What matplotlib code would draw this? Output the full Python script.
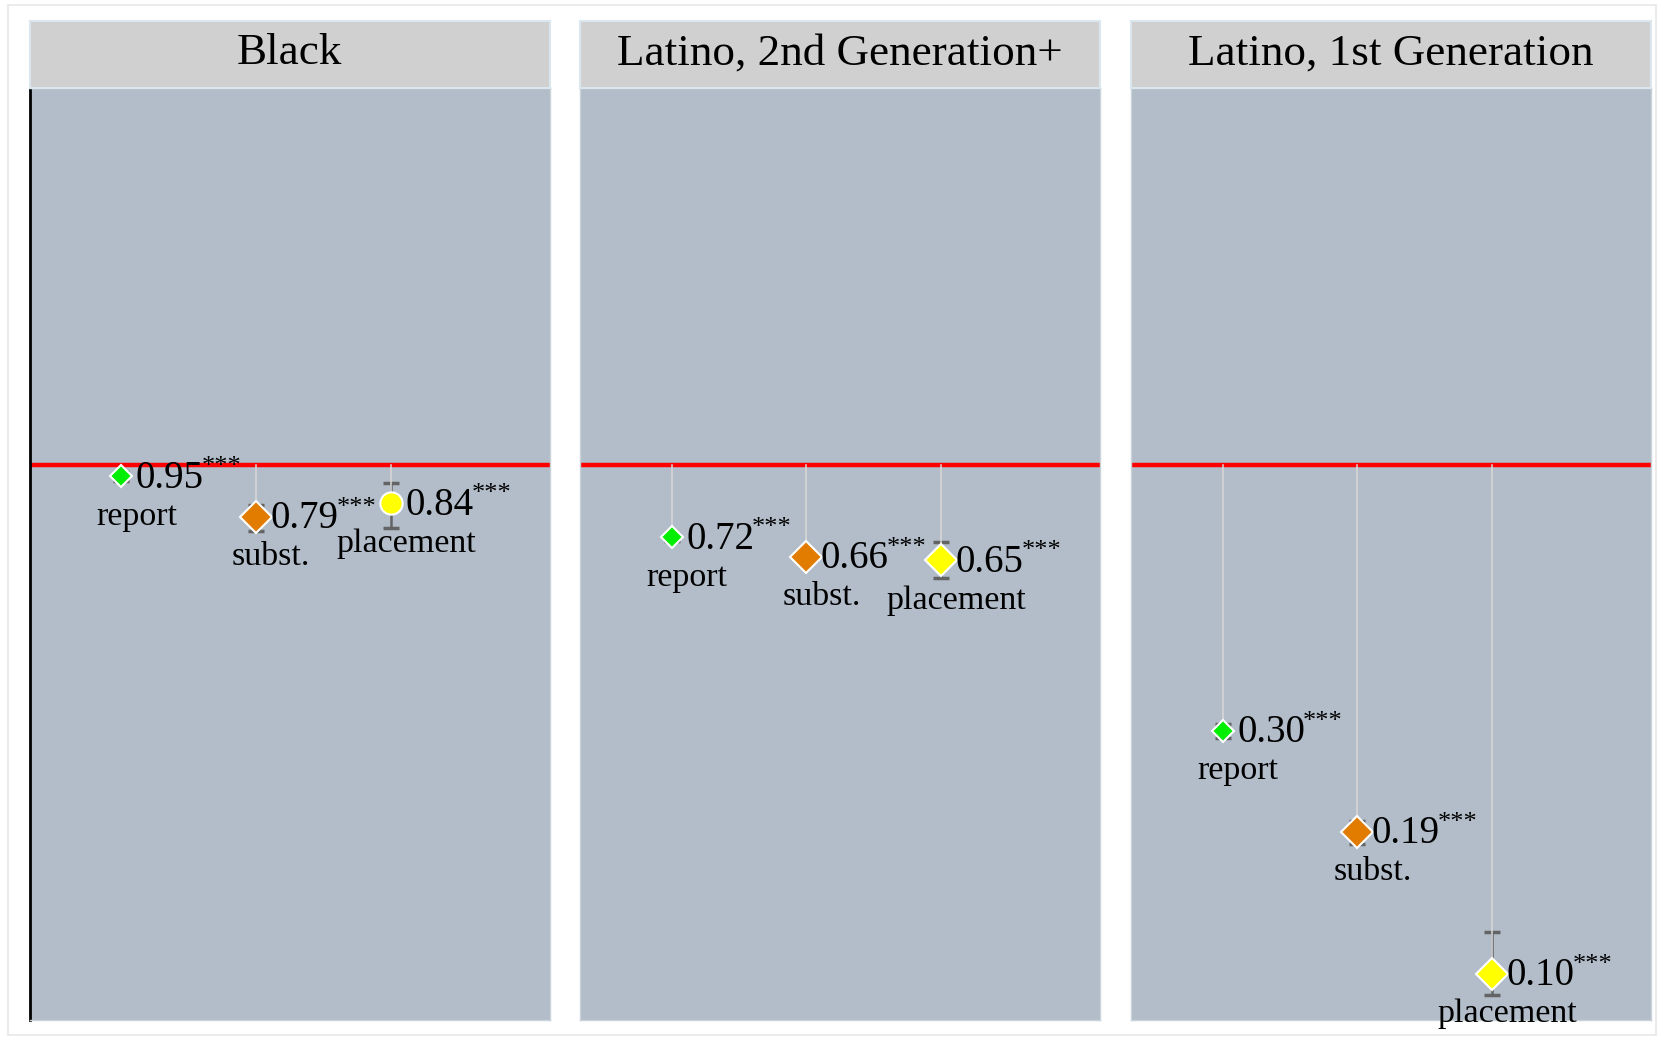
import numpy as np
import matplotlib.pyplot as plt
from matplotlib.patches import Rectangle

# data (odds ratios, log scale)
groups = ['Black', 'Latino, 2nd Generation+', 'Latino, 1st Generation']
outcomes = ['report', 'subst.', 'placement']
est = [[0.95, 0.79, 0.84],
       [0.72, 0.66, 0.65],
       [0.30, 0.19, 0.10]]
ci_lo = [[0.93, 0.74, 0.75],
         [0.71, 0.645, 0.60],
         [0.29, 0.18, 0.091]]
ci_hi = [[0.97, 0.835, 0.92],
         [0.73, 0.675, 0.705],
         [0.31, 0.20, 0.121]]
stars = [['***', '***', '***'],
         ['***', '***', '***'],
         ['***', '***', '***']]

fcol = ['#00ee00', '#e27c00', '#ffff00']
msize = [11, 16, 16]
bg = '#b2bdc9'
serif = ['Liberation Serif', 'DejaVu Serif']

fig = plt.figure(figsize=(16.65, 10.4), dpi=100)
W, H = 1665.0, 1040.0

# faint outer frame
fig.patches.append(Rectangle((8.5 / W, 5 / H), (1656 - 8.5) / W, (1035 - 5) / H,
                             transform=fig.transFigure, fill=False,
                             edgecolor='#ebebeb', lw=1.5))

lefts = [29.7, 580, 1131]
pw = 520.0
top, bot, htop = 88.0, 1019.5, 21.0

for g, name in enumerate(groups):
    ax = fig.add_axes([lefts[g] / W, 1 - bot / H, pw / W, (bot - top) / H])
    ax.set_facecolor(bg)
    ax.set_yscale('log')
    ax.set_ylim(0.0813, 5.5)
    ax.set_xlim(0.32, 4.18)
    ax.set_xticks([])
    ax.set_yticks([])
    ax.minorticks_off()
    for s in ax.spines.values():
        s.set_color('#c8d2da')
        s.set_linewidth(1)
    if g == 0:
        ax.spines['left'].set_color('black')
        ax.spines['left'].set_linewidth(2)

    ax.axhline(1, color='#ff0000', lw=3.2, zorder=2)

    for i in range(3):
        x = i + 1
        y = est[g][i]
        ax.errorbar(x, y, yerr=[[y - ci_lo[g][i]], [ci_hi[g][i] - y]], fmt='none',
                    ecolor='#646464', elinewidth=1.8, capsize=6, capthick=2.5, zorder=3)
        ax.plot([x, x], [1, y], color='#d8d8d8', lw=1.1, zorder=4)
        mk = 'o' if (g == 0 and i == 2) else 'D'
        ms = 16 if mk == 'o' else msize[i]
        ax.plot(x, y, marker=mk, ms=ms, mfc=fcol[i], mec='white', mew=1.5,
                ls='none', zorder=5)
        t = ax.annotate('%.2f' % y, (x, y), xytext=(10.5, -1.5), textcoords='offset points',
                        ha='left', va='center', fontsize=28, family=serif, zorder=6)
        ax.annotate(stars[g][i], xy=(1, 0.8), xycoords=t, xytext=(-1.5, 0),
                    textcoords='offset points', ha='left', va='center',
                    fontsize=19, family=serif)
        ax.annotate(outcomes[i], (x, y), xytext=(11, -29), textcoords='offset points',
                    ha='center', va='center', fontsize=24.5, family=serif,
                    annotation_clip=False)

    hx = fig.add_axes([lefts[g] / W, 1 - top / H, pw / W, (top - htop) / H])
    hx.set_facecolor('#d0d0d0')
    hx.set_xticks([])
    hx.set_yticks([])
    for s in hx.spines.values():
        s.set_color('#dbe7ee')
        s.set_linewidth(1.5)
    hx.text(0.5, 0.52, name, ha='center', va='center', fontsize=32.5, family=serif,
            transform=hx.transAxes)

fig.savefig('out.png', dpi=100)
